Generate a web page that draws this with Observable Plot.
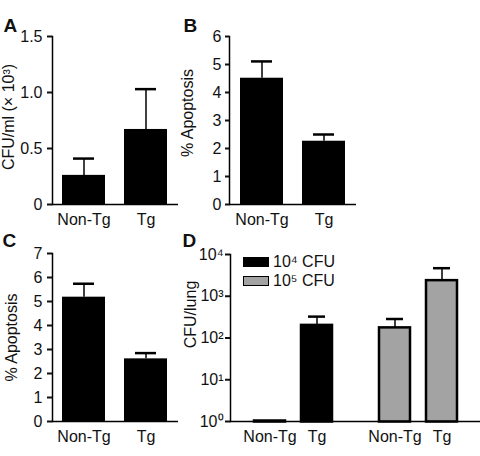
<!DOCTYPE html>
<html><head><meta charset="utf-8">
<script src="https://cdn.jsdelivr.net/npm/d3@7"></script>
<script src="https://cdn.jsdelivr.net/npm/@observablehq/plot@0.6"></script>
<style>
body{margin:0;background:#fff;}
#fig{position:relative;width:480px;height:456px;overflow:hidden;font-family:"Liberation Sans",Arial,sans-serif;color:#111;}
.panel{position:absolute;}
.legend{position:absolute;left:243px;top:252px;font-size:16px;}
.legend .row{display:flex;align-items:center;height:19px;}
.sw{width:26px;height:10px;margin-right:4px;box-sizing:border-box;}
</style></head><body><div id="fig"></div>
<script>
const FONT = '"Liberation Sans", Arial, sans-serif';
const genotypes = ["Non-Tg", "Tg"];

// Panel A: CFU/ml (x10^3)
const aMean = [0.26, 0.67];
const aUpper = [0.41, 1.03];
const aTicks = [0, 0.5, 1, 1.5];
const aTickLabels = ["0", "0.5", "1.0", "1.5"];
// Panel B: % apoptosis
const bMean = [4.51, 2.26];
const bUpper = [5.11, 2.5];
const bTicks = [0, 1, 2, 3, 4, 5, 6];
const bTickLabels = ["0", "1", "2", "3", "4", "5", "6"];
// Panel C: % apoptosis
const cMean = [5.18, 2.61];
const cUpper = [5.74, 2.85];
const cTicks = [0, 1, 2, 3, 4, 5, 6, 7];
const cTickLabels = ["0", "1", "2", "3", "4", "5", "6", "7"];
// Panel D: CFU/lung
const doses = ["10⁴ CFU", "10⁵ CFU"];
const dGenotype = ["Non-Tg", "Tg", "Non-Tg", "Tg"];
const dDose = ["10⁴ CFU", "10⁴ CFU", "10⁵ CFU", "10⁵ CFU"];
const dMean = [1, 195, 170, 2300];
const dUpper = [1, 325, 285, 4700];
const dTicks = [1, 10, 100, 1000, 10000];
const dTickLabels = ["10⁰", "10¹", "10²", "10³", "10⁴"];
const doseColors = ["#000000", "#a3a3a3"];

const fig = document.getElementById("fig");
function place(svg, left, top, w, h) {
  const div = document.createElement("div");
  div.className = "panel";
  div.style.left = left + "px"; div.style.top = top + "px";
  div.style.width = w + "px"; div.style.height = h + "px";
  div.appendChild(svg);
  fig.appendChild(div);
}
const style = {fontFamily: FONT, fontSize: "16px", background: "none", overflow: "visible", color: "#111"};

function barPanel(o) {
  const data = genotypes.map((g, i) => ({g, v: o.mean[i], hi: o.upper[i]}));
  const fmt = new Map(o.ticks.map((t, i) => [t, o.tickLabels[i]]));
  return Plot.plot({
    width: o.width, height: o.height,
    marginLeft: o.ml, marginRight: o.mr, marginTop: o.mt, marginBottom: o.mb,
    style,
    x: {domain: genotypes, paddingInner: 0.3, paddingOuter: 0.16},
    y: {domain: o.domain},
    marks: [
      Plot.barY(data, {x: "g", y: "v", fill: "#000"}),
      Plot.ruleX(data, {x: "g", y1: "v", y2: "hi", stroke: "#000", strokeWidth: 1.5}),
      Plot.tickY(data, {x: "g", y: "hi", stroke: "#000", strokeWidth: 2.5, insetLeft: 11, insetRight: 11}),
      Plot.ruleY([0], {stroke: "#000", strokeWidth: 1.5}),
      Plot.frame({anchor: "left", stroke: "#000", strokeWidth: 1.5}),
      Plot.axisY({ticks: o.ticks, tickFormat: d => fmt.get(d), tickSize: o.ts, tickPadding: o.tp, strokeWidth: 2, label: null, fontSize: 16}),
      Plot.axisX({tickSize: 0, tickPadding: 9, label: null, fontSize: 16}),
      Plot.text([o.label], {frameAnchor: "left", textAnchor: "middle", lineAnchor: "middle", rotate: -90, dx: o.ldx, dy: o.ldy, fontSize: 16}),
      Plot.text([o.letter], {frameAnchor: "top-left", textAnchor: "start", lineAnchor: "top", dx: o.pdx, dy: o.pdy, fontSize: 19, fontWeight: "bold"})
    ]
  });
}

place(barPanel({mean: aMean, upper: aUpper, domain: [0, 1.5], ticks: aTicks, tickLabels: aTickLabels,
  label: "CFU/ml (× 10³)", letter: "A", width: 240, height: 230, ml: 52, mr: 62, mt: 36, mb: 26,
  ts: 5, tp: 5, ldx: -43.5, ldy: -3.5, pdx: -49, pdy: -18}), 0, 0, 240, 230);

place(barPanel({mean: bMean, upper: bUpper, domain: [0, 6], ticks: bTicks, tickLabels: bTickLabels,
  label: "% Apoptosis", letter: "B", width: 230, height: 230, ml: 59, mr: 44, mt: 36, mb: 26,
  ts: 4, tp: 4, ldx: -41.5, ldy: -7.5, pdx: -46, pdy: -18}), 170, 0, 230, 230);

place(barPanel({mean: cMean, upper: cUpper, domain: [0, 7], ticks: cTicks, tickLabels: cTickLabels,
  label: "% Apoptosis", letter: "C", width: 240, height: 226, ml: 52, mr: 62, mt: 23, mb: 35,
  ts: 5, tp: 5, ldx: -41, ldy: 0, pdx: -50, pdy: -20}), 0, 230, 240, 226);

// Panel D
const dData = dGenotype.map((g, i) => ({g, dose: dDose[i], v: dMean[i], hi: dUpper[i]}));
const dFmt = new Map(dTicks.map((t, i) => [t, dTickLabels[i]]));
const dPlot = Plot.plot({
  width: 310, height: 226, marginLeft: 60, marginRight: 0, marginTop: 24, marginBottom: 35,
  style,
  fx: {domain: doses, axis: null, padding: 0},
  x: {domain: genotypes, paddingInner: 0.35, paddingOuter: 0.5},
  y: {type: "log", domain: [1, 10000]},
  color: {domain: doses, range: doseColors},
  marks: [
    Plot.barY(dData, {fx: "dose", x: "g", y1: 1, y2: "v", fill: "dose", stroke: "#000", strokeWidth: 2.5, insetTop: -0.5, insetBottom: -0.5}),
    Plot.ruleX(dData, {fx: "dose", x: "g", y1: "v", y2: "hi", stroke: "#000", strokeWidth: 1.5, filter: d => d.hi > d.v}),
    Plot.tickY(dData, {fx: "dose", x: "g", y: "hi", stroke: "#000", strokeWidth: 2.5, insetLeft: 7, insetRight: 7, filter: d => d.hi > d.v}),
    Plot.ruleY([1], {stroke: "#000", strokeWidth: 1.5}),
    Plot.frame({anchor: "left", stroke: "#000", strokeWidth: 1.5, facetAnchor: "left"}),
    Plot.axisY({ticks: dTicks, tickFormat: d => dFmt.get(d), tickSize: 5, tickPadding: 2, strokeWidth: 2, label: null, fontSize: 16}),
    Plot.axisX({tickSize: 0, tickPadding: 9, label: null, fontSize: 16}),
    Plot.text(["CFU/lung"], {frameAnchor: "left", facetAnchor: "left", textAnchor: "middle", lineAnchor: "middle", rotate: -90, dx: -39.5, dy: -23.5, fontSize: 16}),
    Plot.text(["D"], {frameAnchor: "top-left", facetAnchor: "left", textAnchor: "start", lineAnchor: "top", dx: -48, dy: -21, fontSize: 19, fontWeight: "bold"})
  ]
});
place(dPlot, 170, 230, 310, 226);

// Legend for panel D
const leg = document.createElement("div");
leg.className = "legend";
doses.forEach((d, i) => {
  const row = document.createElement("div");
  row.className = "row";
  const sw = document.createElement("div");
  sw.className = "sw";
  sw.style.background = doseColors[i];
  sw.style.border = "1.5px solid #000";
  const t = document.createElement("span");
  t.textContent = d;
  row.appendChild(sw); row.appendChild(t);
  leg.appendChild(row);
});
fig.appendChild(leg);
</script>
</body></html>
